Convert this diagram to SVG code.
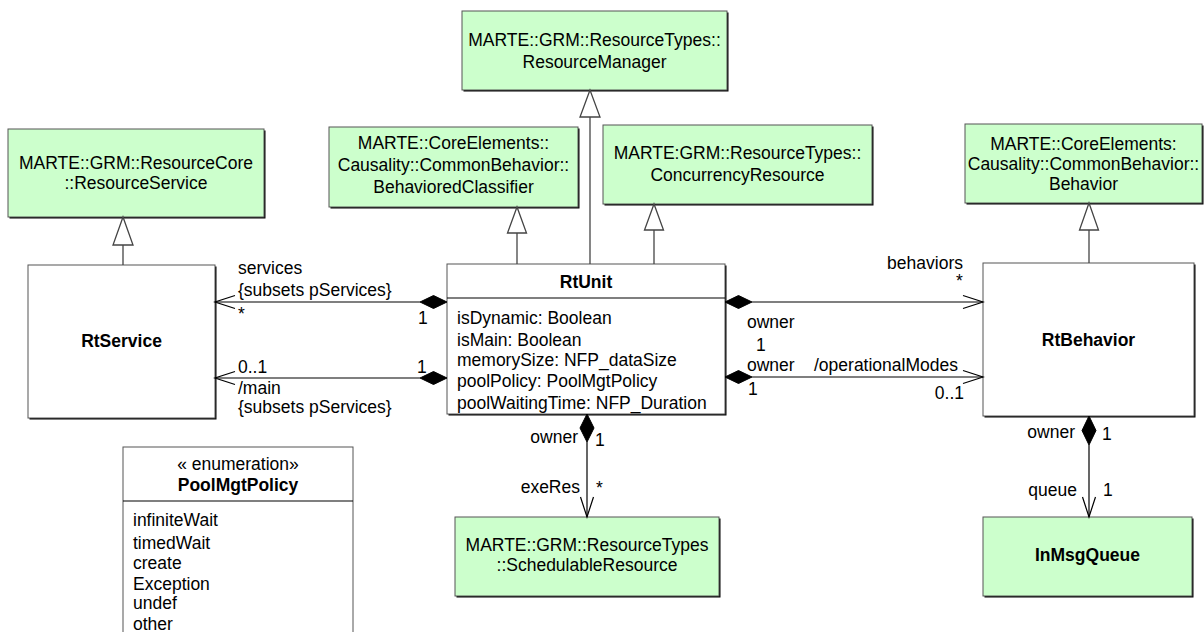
<svg xmlns="http://www.w3.org/2000/svg" width="1204" height="632" viewBox="0 0 1204 632">
<style>
text{font-family:"Liberation Sans",Arial,sans-serif;font-size:17.5px;fill:#000}
.c{text-anchor:middle}
.e{text-anchor:end}
.b{font-weight:bold}
.g{fill:#ccffcc;stroke:#555;stroke-width:1}
.w{fill:#fff;stroke:#555;stroke-width:1}
.sh{fill:#000;stroke:none}
.ln{stroke:#000;stroke-width:1.2;fill:none}
.gl{stroke:#444;stroke-width:1.3;fill:none}
.tri{fill:#fff;stroke:#444;stroke-width:1.3}
.dia{fill:#000;stroke:#000;stroke-width:1}
</style>
<rect width="1204" height="632" fill="#fff"/>

<g id="ResourceManager">
<rect class="sh" x="463.5" y="12.5" width="265" height="79"/>
<rect class="g" x="462" y="11" width="265" height="79"/>
<text class="c" x="594.5" y="46">MARTE::GRM::ResourceTypes::</text>
<text class="c" x="594.5" y="68">ResourceManager</text>
</g>

<g id="ResourceService">
<rect class="sh" x="9.5" y="130.5" width="256" height="88"/>
<rect class="g" x="8" y="129" width="256" height="88"/>
<text class="c" x="136" y="169">MARTE::GRM::ResourceCore</text>
<text class="c" x="136" y="189">::ResourceService</text>
</g>

<g id="BehavioredClassifier">
<rect class="sh" x="330.5" y="128.5" width="249" height="80"/>
<rect class="g" x="329" y="127" width="249" height="80"/>
<text class="c" x="453.5" y="149">MARTE::CoreElements::</text>
<text class="c" x="453.5" y="171">Causality::CommonBehavior::</text>
<text class="c" x="453.5" y="193">BehavioredClassifier</text>
</g>

<g id="ConcurrencyResource">
<rect class="sh" x="604.5" y="126.5" width="269" height="79"/>
<rect class="g" x="603" y="125" width="269" height="79"/>
<text class="c" x="737.5" y="159">MARTE:GRM::ResourceTypes::</text>
<text class="c" x="737.5" y="181">ConcurrencyResource</text>
</g>

<g id="Behavior">
<rect class="sh" x="966.5" y="125.5" width="237" height="79"/>
<rect class="g" x="965" y="124" width="237" height="79"/>
<text class="c" x="1083.5" y="150">MARTE::CoreElements:</text>
<text class="c" x="1083.5" y="170">Causality::CommonBehavior::</text>
<text class="c" x="1083.5" y="190">Behavior</text>
</g>

<g id="RtService">
<rect class="sh" x="29.5" y="266.5" width="187" height="153"/>
<rect class="w" x="28" y="265" width="187" height="153"/>
<text class="c b" x="121.5" y="347">RtService</text>
</g>

<g id="RtUnit">
<rect class="sh" x="448.5" y="265.5" width="278" height="150"/>
<rect class="w" x="447" y="264" width="278" height="150"/>
<line x1="447" y1="298" x2="725" y2="298" stroke="#000" stroke-width="1.2"/>
<text class="c b" x="586" y="288">RtUnit</text>
<text x="457" y="324">isDynamic: Boolean</text>
<text x="457" y="346">isMain: Boolean</text>
<text x="457" y="366">memorySize: NFP_dataSize</text>
<text x="457" y="387">poolPolicy: PoolMgtPolicy</text>
<text x="457" y="409">poolWaitingTime: NFP_Duration</text>
</g>

<g id="RtBehavior">
<rect class="sh" x="984.5" y="264.5" width="211" height="153"/>
<rect class="w" x="983" y="263" width="211" height="153"/>
<text class="c b" x="1088.5" y="346">RtBehavior</text>
</g>

<g id="SchedulableResource">
<rect class="sh" x="456.5" y="518.5" width="264" height="79"/>
<rect class="g" x="455" y="517" width="264" height="79"/>
<text class="c" x="587" y="551">MARTE::GRM::ResourceTypes</text>
<text class="c" x="587" y="571">::SchedulableResource</text>
</g>

<g id="InMsgQueue">
<rect class="sh" x="984.5" y="518.5" width="209" height="79"/>
<rect class="g" x="983" y="517" width="209" height="79"/>
<text class="c b" x="1087.5" y="561">InMsgQueue</text>
</g>

<g id="PoolMgtPolicy">
<rect class="w" x="123" y="447" width="230" height="200" stroke="#000" stroke-width="1.5"/>
<line x1="123" y1="501" x2="353" y2="501" stroke="#000" stroke-width="1.2"/>
<text class="c" x="238" y="470">« enumeration»</text>
<text class="c b" x="238" y="491">PoolMgtPolicy</text>
<text x="133" y="526">infiniteWait</text>
<text x="133" y="549">timedWait</text>
<text x="133" y="569">create</text>
<text x="133" y="590">Exception</text>
<text x="133" y="609">undef</text>
<text x="133" y="630">other</text>
</g>

<g id="connectors">
<line class="gl" x1="590" y1="264" x2="590" y2="117"/>
<polygon class="tri" points="590,90 580,117 600,117"/>
<line class="gl" x1="123" y1="265" x2="123" y2="245"/>
<polygon class="tri" points="123,217 113,245 133,245"/>
<line class="gl" x1="517" y1="264" x2="517" y2="233"/>
<polygon class="tri" points="517,207 507.5,233 526.5,233"/>
<line class="gl" x1="654" y1="264" x2="654" y2="230"/>
<polygon class="tri" points="654,204 644.5,230 663.5,230"/>
<line class="gl" x1="1089" y1="263" x2="1089" y2="230"/>
<polygon class="tri" points="1089,203 1079.5,230 1098.5,230"/>

<line class="ln" x1="215" y1="302" x2="420" y2="302"/>
<polyline class="ln" points="235,295.5 215,302 235,308.5"/>
<polygon class="dia" points="447,302 433.5,295.5 420,302 433.5,308.5"/>
<text x="238" y="274">services</text>
<text x="238" y="296">{subsets pServices}</text>
<text x="238" y="320">*</text>
<text x="418" y="324">1</text>

<line class="ln" x1="215" y1="378" x2="420" y2="378"/>
<polyline class="ln" points="235,371.5 215,378 235,384.5"/>
<polygon class="dia" points="447,378 433.5,371.5 420,378 433.5,384.5"/>
<text x="238" y="373">0..1</text>
<text x="417" y="373">1</text>
<text x="238" y="394">/main</text>
<text x="238" y="413">{subsets pServices}</text>

<line class="ln" x1="752" y1="302" x2="983" y2="302"/>
<polyline class="ln" points="963,295.5 983,302 963,308.5"/>
<polygon class="dia" points="725,302 738.5,295.5 752,302 738.5,308.5"/>
<text class="e" x="963" y="269">behaviors</text>
<text x="956" y="287">*</text>
<text x="747" y="328">owner</text>
<text x="756" y="351">1</text>

<line class="ln" x1="752" y1="377" x2="983" y2="377"/>
<polyline class="ln" points="963,370.5 983,377 963,383.5"/>
<polygon class="dia" points="725,377 738.5,370.5 752,377 738.5,383.5"/>
<text x="747" y="371">owner</text>
<text x="814" y="371">/operationalModes</text>
<text x="748" y="395">1</text>
<text class="e" x="964" y="399">0..1</text>

<line class="ln" x1="587" y1="442" x2="587" y2="517"/>
<polyline class="ln" points="580.5,497 587,517 593.5,497"/>
<polygon class="dia" points="587,414 580,428 587,442 594,428"/>
<text class="e" x="578" y="443">owner</text>
<text x="595" y="446">1</text>
<text class="e" x="580" y="493">exeRes</text>
<text x="596" y="494">*</text>

<line class="ln" x1="1089" y1="445" x2="1089" y2="517"/>
<polyline class="ln" points="1082.5,497 1089,517 1095.5,497"/>
<polygon class="dia" points="1089,416 1082,430.5 1089,445 1096,430.5"/>
<text class="e" x="1075" y="438">owner</text>
<text x="1102" y="440">1</text>
<text class="e" x="1077" y="496">queue</text>
<text x="1103" y="496">1</text>
</g>
</svg>
